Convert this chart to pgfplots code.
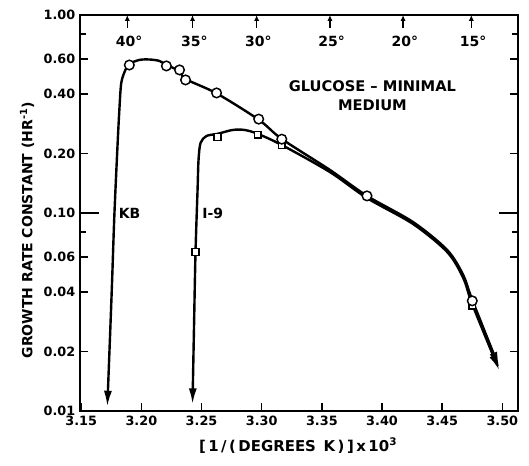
\documentclass[border=0pt]{standalone}
\usepackage{fontspec}
\setmainfont{DejaVu Sans}
\usepackage{pgfplots}
\pgfplotsset{compat=1.18}
\usetikzlibrary{arrows.meta}

\begin{document}
\begin{tikzpicture}
\useasboundingbox (0,0) rectangle (396.75pt,349.5pt);
\begin{axis}[
  at={(60pt,41.25pt)}, anchor=south west,
  scale only axis,
  width=328.5pt, height=297pt,
  xmin=3.149, xmax=3.513,
  ymode=log, ymin=0.01, ymax=1,
  xtick={3.15,3.20,3.25,3.30,3.35,3.40,3.45,3.50},
  xticklabels={3.15,3.20,3.25,3.30,3.35,3.40,3.45,3.50},
  xtick pos=bottom,
  ytick={0.01,0.02,0.04,0.06,0.1,0.2,0.4,0.6,1},
  yticklabels={0.01,0.02,0.04,0.06,0.10,0.20,0.40,0.60,1.00},
  minor ytick={0.08,0.8},
  extra y ticks={0.1}, extra y tick labels={},
  extra y tick style={tick align=inside, major tick length=14pt},
  tick align=inside,
  major tick length=6pt, minor tick length=4.5pt,
  tick style={black, line width=1.1pt},
  axis line style={line width=1.4pt},
  tick label style={font=\bfseries\fontsize{9.6}{10}\selectfont},
  xlabel={[\,1\,/\,(\,DEGREES\, K\,)\,]\,x\,10\textsuperscript{3}},
  ylabel={GROWTH RATE CONSTANT (HR\textsuperscript{-1})},
  label style={font=\bfseries\fontsize{10.5}{12}\selectfont},
  xlabel style={at={(axis description cs:0.498,0)}, anchor=center, yshift=-26pt,
    font=\bfseries\fontsize{11.2}{12}\selectfont},
  ylabel style={at={(axis description cs:-0.121,0.457)}, anchor=center},
  clip=false,
]
% KB curve
\addplot[line width=1.8pt, smooth, tension=0.5,
  {Latex[length=12pt,width=6pt]}-{Latex[length=12pt,width=6pt]}] coordinates {
  (3.1717,0.0105) (3.1754,0.0408) (3.1775,0.0955) (3.1800,0.208)
  (3.1817,0.331) (3.1833,0.454) (3.1867,0.527) (3.1900,0.566)
  (3.1983,0.593) (3.2067,0.596) (3.2150,0.586) (3.2208,0.559)
  (3.2317,0.521) (3.2367,0.475) (3.2625,0.402) (3.2975,0.296)
  (3.3167,0.2365) (3.3567,0.165) (3.3875,0.122) (3.4258,0.090)
  (3.4542,0.065) (3.4675,0.0486) (3.4750,0.0364) (3.4975,0.0165)
};
% I-9 curve
\addplot[line width=1.8pt, smooth, tension=0.5,
  {Latex[length=12pt,width=6pt]}-{Latex[length=12pt,width=6pt]}] coordinates {
  (3.2425,0.0108) (3.2437,0.0257) (3.2450,0.0635) (3.2467,0.131)
  (3.2475,0.185) (3.2492,0.226) (3.2542,0.245) (3.2633,0.251)
  (3.2758,0.2626) (3.2858,0.2626) (3.2967,0.251) (3.3167,0.2205)
  (3.3567,0.161) (3.3875,0.119) (3.4258,0.088) (3.4542,0.0635)
  (3.4675,0.047) (3.4750,0.0346) (3.4975,0.016)
};
% I-9 squares
\addplot[only marks, mark=square*, mark size=2.5pt,
  mark options={fill=white, draw=black, line width=1.1pt}] coordinates {
  (3.245,0.0635) (3.2633,0.242) (3.2967,0.248) (3.3167,0.220) (3.475,0.034)
};
% KB circles
\addplot[only marks, mark=*, mark size=3.6pt,
  mark options={fill=white, draw=black, line width=1.1pt}] coordinates {
  (3.19,0.559) (3.2208,0.553) (3.2317,0.528) (3.2367,0.470) (3.2625,0.404)
  (3.2975,0.298) (3.3167,0.236) (3.3875,0.122) (3.475,0.036)
};
% temperature scale on top
\draw[line width=1.1pt, {Latex[length=4.5pt,width=4pt]}-] (axis cs:3.1883,1) -- ++(0pt,-10pt);
\draw[line width=1.1pt, {Latex[length=4.5pt,width=4pt]}-] (axis cs:3.2425,1) -- ++(0pt,-10pt);
\draw[line width=1.1pt, {Latex[length=4.5pt,width=4pt]}-] (axis cs:3.2958,1) -- ++(0pt,-10pt);
\draw[line width=1.1pt, {Latex[length=4.5pt,width=4pt]}-] (axis cs:3.3567,1) -- ++(0pt,-10pt);
\draw[line width=1.1pt, {Latex[length=4.5pt,width=4pt]}-] (axis cs:3.4175,1) -- ++(0pt,-10pt);
\draw[line width=1.1pt, {Latex[length=4.5pt,width=4pt]}-] (axis cs:3.4742,1) -- ++(0pt,-10pt);
\begin{scope}[every node/.style={font=\bfseries\fontsize{10.5}{11}\selectfont, yshift=-20pt}]
\node at (axis cs:3.1898,1) {40°};
\node at (axis cs:3.2440,1) {35°};
\node at (axis cs:3.2973,1) {30°};
\node at (axis cs:3.3582,1) {25°};
\node at (axis cs:3.4190,1) {20°};
\node at (axis cs:3.4757,1) {15°};
\end{scope}
\node[font=\bfseries\fontsize{10.5}{11}\selectfont, anchor=west, inner sep=0pt] at (axis cs:3.181,0.1) {KB};
\node[font=\bfseries\fontsize{10.5}{11}\selectfont, anchor=west, inner sep=0pt] at (axis cs:3.2505,0.1) {I-9};
\node[font=\bfseries\fontsize{11}{14.5}\selectfont, align=center] at (axis cs:3.392,0.39)
  {GLUCOSE -- MINIMAL\\MEDIUM};
\end{axis}
\end{tikzpicture}
\end{document}
